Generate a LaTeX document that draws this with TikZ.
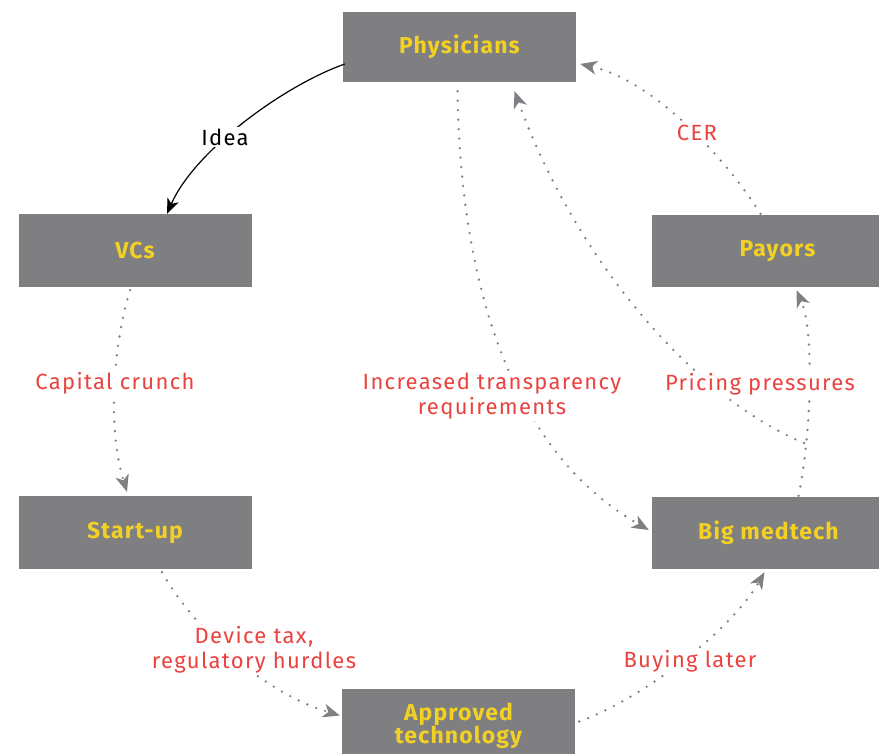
\documentclass[tikz,border=0pt]{standalone}
\usepackage{fontspec}
\setmainfont{Fira Sans}
\newfontfamily\labfont[LetterSpace=6]{Fira Sans}
\newfontfamily\boxfont[LetterSpace=5]{Fira Sans}
\usetikzlibrary{arrows.meta}
\definecolor{boxgray}{RGB}{127,127,130}
\definecolor{ttyellow}{RGB}{242,208,36}
\definecolor{labred}{RGB}{234,66,62}
\definecolor{dotgray}{RGB}{128,128,132}
\begin{document}
\begin{tikzpicture}[x=1pt,y=-1pt,
  box/.style={fill=boxgray, text=ttyellow, font=\boxfont\fontsize{23}{26}\selectfont\bfseries,
    inner sep=0pt, align=center, minimum width=233pt, minimum height=72pt},
  lab/.style={text=labred, font=\labfont\fontsize{22}{25}\selectfont, fill=white,
    inner sep=1.5pt, align=center},
  dotline/.style={draw=dotgray, line width=2.6pt, dash pattern=on 0pt off 9.5pt,
    line cap=round, -{Stealth[length=17pt,width=14pt,inset=5pt,line width=0pt,fill=dotgray,round=false,sep=0pt]}},
  solidarrow/.style={draw=black, line width=1.2pt,
    -{Stealth[length=15pt,width=12pt,inset=4pt]}},
]
\useasboundingbox (0,0) rectangle (879,754);

% boxes
\node[box, minimum height=70pt] (phys) at (459.5,47) {Physicians};
\node[box, minimum height=73pt] (vcs) at (135,250.5) {VCs};
\node[box, minimum height=72pt] (pay) at (768.5,251) {\hspace*{18pt}Payors};
\node[box, minimum height=73pt] (start) at (135,532.5) {Start-up};
\node[box, minimum height=72pt] (med) at (768.5,533) {Big medtech};
\node[box, minimum height=73pt] (appr) at (458.5,725.5) {Approved\\[-3pt]technology};

% connector end points
\coordinate (branch) at (804,443);

% connectors
\draw[solidarrow] ([shift={(2,17)}]phys.west) .. controls (285,85) and (195,150) .. ([xshift=32]vcs.north);
\draw[dotline] ([shift={(-5,3)}]vcs.south) .. controls (112,350) and (108,430) .. ([shift={(-8,-4)}]start.north);
\draw[dotline] ([shift={(27,3)}]start.south) .. controls (195,630) and (262,692) .. ([shift={(-2,-10)}]appr.west);
\draw[dotline] ([shift={(4,-4)}]appr.east) .. controls (640,700) and (730,632) .. ([shift={(-4,3)}]med.south);
\draw[dotline] ([shift={(30,-1)}]med.north) .. controls (812,430) and (814,330) .. ([shift={(28,3)}]pay.south);
\draw[dotline] ([shift={(-8,-1)}]pay.north) .. controls (720,150) and (650,80) .. ([shift={(4,17)}]phys.east);
\draw[dotline] ([shift={(-2,9)}]phys.south) .. controls (460,260) and (500,445) .. ([shift={(-3,-3)}]med.west);
\draw[dotline] (branch) .. controls (700,400) and (580,270) .. ([shift={(55,9)}]phys.south);

% labels
\node[lab, text=black] (lidea) at (225,137) {Idea};
\node[lab] (lcap) at (115,383) {Capital crunch};
\node[lab] (ldev) at (254,650) {Device tax,\\regulatory hurdles};
\node[lab] (ltra) at (492,396) {Increased transparency\\requirements};
\node[lab] (lpri) at (760,384) {Pricing pressures};
\node[lab] (lcer) at (697,133) {CER};
\node[lab] (lbuy) at (690,661) {Buying later};
\end{tikzpicture}
\end{document}
